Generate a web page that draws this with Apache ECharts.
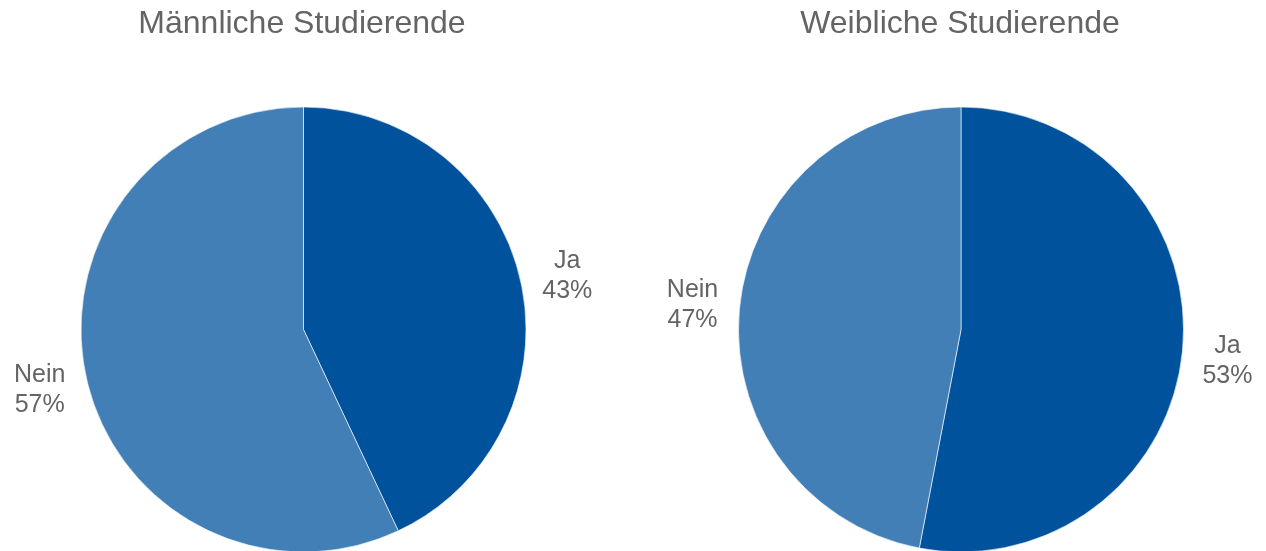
<!DOCTYPE html>
<html>
<head>
<meta charset="utf-8">
<script src="https://cdn.jsdelivr.net/npm/echarts@6/dist/echarts.min.js"></script>
<style>
    html, body { margin: 0; padding: 0; background: #fff; }
    #chart { width: 1266px; height: 551px; }
</style>
</head>
<body>
<div id="chart"></div>
<script>
// Daten
const categories = ['Ja', 'Nein'];
const maleValues = [43, 57];
const femaleValues = [53, 47];
const titles = ['Männliche Studierende', 'Weibliche Studierende'];

const colors = ['#00529c', '#427fb7'];
const textColor = '#646464';
const fontFamily = 'Liberation Sans, Arial, sans-serif';

function pieData(values) {
    return categories.map(function (name, i) {
        return { name: name, value: values[i], itemStyle: { color: colors[i] } };
    });
}

function pieSeries(name, values, center) {
    return {
        name: name,
        type: 'pie',
        center: center,
        radius: 222.5,
        startAngle: 90,
        clockwise: true,
        animation: false,
        silent: true,
        avoidLabelOverlap: false,
        itemStyle: {
            borderColor: 'rgba(255,255,255,0.6)',
            borderWidth: 1
        },
        label: {
            show: true,
            position: 'outside',
            bleedMargin: 0,
            formatter: '{t|{b}}\n{t|{d}%}',
            color: textColor,
            fontFamily: fontFamily,
            fontSize: 25,
            lineHeight: 30,
            rich: {
                t: {
                    width: 54,
                    align: 'center',
                    color: textColor,
                    fontFamily: fontFamily,
                    fontSize: 25,
                    lineHeight: 30
                }
            }
        },
        labelLine: { show: false, length: 15, length2: 0 },
        // kleine Verschiebungen wie im Original
        labelLayout: function (params) {
            if (params.seriesIndex === 0 && params.dataIndex === 0) return { dy: -2 };
            if (params.seriesIndex === 0 && params.dataIndex === 1) return { dy: 9 };
            if (params.seriesIndex === 1 && params.dataIndex === 0) return { dy: 9, dx: -2 };
            if (params.seriesIndex === 1 && params.dataIndex === 1) return { dy: -2 };
            return {};
        },
        data: pieData(values)
    };
}

let chart = echarts.init(document.getElementById('chart'), null, { renderer: 'canvas' });

chart.setOption({
    backgroundColor: '#fff',
    title: [
        {
            text: titles[0],
            left: 297,
            top: 3,
            textAlign: 'center',
            textStyle: { color: textColor, fontFamily: fontFamily, fontSize: 32, fontWeight: 'normal' }
        },
        {
            text: titles[1],
            left: 955,
            top: 3,
            textAlign: 'center',
            textStyle: { color: textColor, fontFamily: fontFamily, fontSize: 32, fontWeight: 'normal' }
        }
    ],
    series: [
        pieSeries(titles[0], maleValues, [303.5, 329.5]),
        pieSeries(titles[1], femaleValues, [961, 329.5])
    ]
});
</script>
</body>
</html>
